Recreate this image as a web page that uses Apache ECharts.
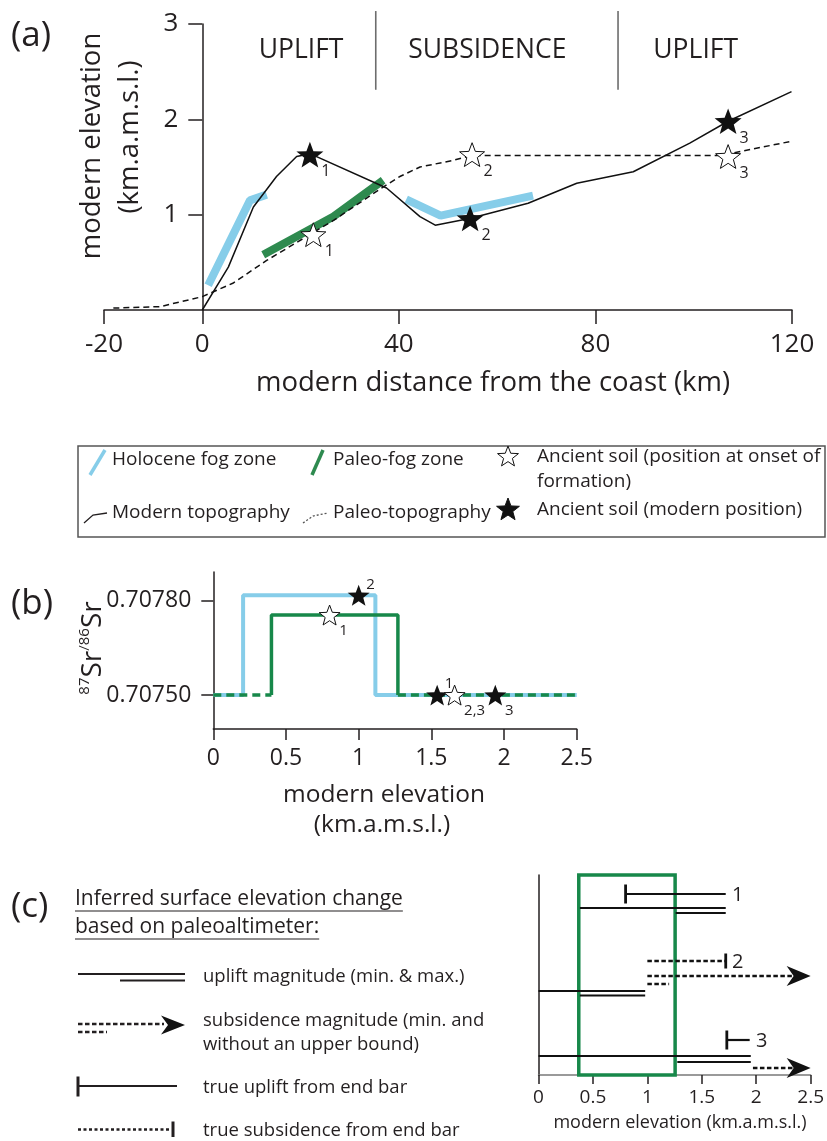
<!DOCTYPE html>
<html><head><meta charset="utf-8">
<script src="https://cdn.jsdelivr.net/npm/echarts@6/dist/echarts.min.js"></script>
<style>html,body{margin:0;padding:0;background:#fff}#c{width:827px;height:1141px}</style>
</head><body><div id="c"></div>
<script>
// ---------------- Panel (a) data ----------------
const aXTicks = [-20, 0, 40, 80, 120];
const aYTicks = [1, 2, 3];
const modernTopo = [[0,0],[5.3,0.45],[10.4,1.08],[15.1,1.40],[19.2,1.61],[21.9,1.64],[37.5,1.28],[44.3,0.98],[47.4,0.89],[54.4,0.96],[66.3,1.12],[76.2,1.33],[87.7,1.45],[99.2,1.75],[107.0,1.98],[119.9,2.29]];
const paleoTopo = [[-18.1,0.02],[-8.6,0.035],[0,0.14],[6.2,0.28],[13.1,0.52],[26.7,0.94],[36.8,1.29],[40.2,1.40],[44.3,1.50],[51.1,1.57],[54.8,1.62],[105.4,1.62],[119.9,1.77]];
const holoceneFog1 = [[1.2,0.26],[9.7,1.15],[13.1,1.21]];
const holoceneFog2 = [[41.5,1.16],[48.5,0.99],[67.3,1.20]];
const paleoFog = [[12.4,0.58],[26.7,0.98],[36.8,1.36]];
const soilModernA = [[21.9,1.63,'1'],[54.5,0.96,'2'],[107.0,1.98,'3']];
const soilOnsetA = [[22.6,0.79,'1'],[54.9,1.63,'2'],[107.0,1.61,'3']];
const regionBounds = [35.3, 84.6];
const regionSpan = [2.31, 3.136];
const regionLabels = [[20.1,'UPLIFT'],[58.0,'SUBSIDENCE'],[100.4,'UPLIFT']];
const regionLabelY = 2.727;

// ---------------- Panel (b) data ----------------
const bXTicks = [0, 0.5, 1, 1.5, 2, 2.5];
const bYTicks = [0.7075, 0.7078];
const holoceneSr = [[0,0.7075],[0.205,0.7075],[0.205,0.707818],[1.115,0.707818],[1.115,0.7075],[2.5,0.7075]];
const paleoSrSolid = [[0.40,0.7075],[0.40,0.707755],[1.27,0.707755],[1.27,0.7075]];
const paleoSrDash1 = [[0,0.7075],[0.40,0.7075]];
const paleoSrDash2 = [[1.27,0.7075],[2.5,0.7075]];
const soilModernB = [[1.0,0.707818,'2','sup'],[1.54,0.7075,'1','sup'],[1.94,0.7075,'3','sub']];
const soilOnsetB = [[0.80,0.707755,'1','sub'],[1.66,0.7075,'2,3','sub']];

// ---------------- Panel (c) data ----------------
const cXTicks = [0, 0.5, 1, 1.5, 2, 2.5];
const cRowRange = [0, 20];
const paleoFogRange = [0.37, 1.255];
// [from, to, row, kind]
const cSegments = [
  [0.80, 1.72, 1.9, 'uplift-bar'],
  [0.38, 1.72, 3.3, 'solid'],
  [1.26, 1.72, 3.8, 'solid'],
  [1.0, 1.72, 8.6, 'subsid-bar'],
  [1.0, 2.5, 10.1, 'subsid-arrow'],
  [1.0, 1.2, 10.9, 'dotted'],
  [0, 0.98, 11.6, 'solid'],
  [0.38, 0.98, 12.05, 'solid'],
  [1.73, 1.94, 16.5, 'uplift-bar'],
  [0, 1.95, 18.1, 'solid'],
  [1.275, 1.95, 18.7, 'solid'],
  [1.97, 2.5, 19.3, 'subsid-arrow']
];
const cLabels = [[1.72, 1.9, '1'], [1.72, 8.6, '2'], [1.94, 16.5, '3']];

// ---------------- helpers ----------------
const FONT = 'Open Sans';
const INK = '#231f20';
const BLUE = '#86cde9';
const GREEN_A = '#2e8a4f';
const GREEN = '#17884a';
function starPts(cx, cy, R) {
  const pts = []; const r = R * 0.42;
  for (let i = 0; i < 10; i++) {
    const a = -Math.PI / 2 + i * Math.PI / 5; const rr = i % 2 ? r : R;
    pts.push([cx + rr * Math.cos(a), cy + rr * Math.sin(a)]);
  }
  return pts;
}
const STAR = 'path://M' + starPts(0, 0, 10).map(p => p[0].toFixed(2) + ',' + p[1].toFixed(2)).join(' L') + ' Z';
const mctx = document.createElement('canvas').getContext('2d');
function tw(t, size) { mctx.font = size + 'px "' + FONT + '"'; return mctx.measureText(t).width; }
function txt(x, y, text, size, o) {
  o = o || {};
  return { type: 'text', x: x, y: y, rotation: o.rot || 0, z: 10,
    style: { text: text, fontSize: size, fontFamily: FONT, fill: o.fill || INK,
      align: o.align || 'left', textAlign: o.align || 'left', verticalAlign: 'middle', textVerticalAlign: 'middle', rich: o.rich } };
}
function seg(x1, y1, x2, y2, st) {
  return { type: 'line', z: 10, shape: { x1: x1, y1: y1, x2: x2, y2: y2 }, style: Object.assign({ stroke: INK, lineWidth: 2 }, st || {}) };
}
function poly(points, st) { return { type: 'polyline', z: 10, shape: { points: points }, style: Object.assign({ stroke: INK, lineWidth: 2, fill: null }, st || {}) }; }
function starG(cx, cy, R, filled) {
  return { type: 'polygon', z: 10, shape: { points: starPts(cx, cy, R) }, style: { fill: filled ? '#111' : '#fff', stroke: '#111', lineWidth: 1 } };
}

const graphics = [];
// panel labels
graphics.push(txt(11, 36, '(a)', 35));
graphics.push(txt(11, 604, '(b)', 35));
graphics.push(txt(11, 907, '(c)', 35));
// panel (a) axis titles
graphics.push(txt(92, 146, 'modern elevation', 27.5, { rot: Math.PI / 2, align: 'center' }));
graphics.push(txt(130, 137, '(km.a.m.s.l.)', 27.5, { rot: Math.PI / 2, align: 'center' }));
graphics.push(txt(493, 383, 'modern distance from the coast (km)', 27.5, { align: 'center' }));
// legend box
graphics.push({ type: 'rect', z: 9, shape: { x: 78, y: 446, width: 747, height: 91 }, style: { fill: null, stroke: '#555', lineWidth: 1.5 } });
graphics.push(seg(90, 475, 105, 450, { stroke: BLUE, lineWidth: 3.5 }));
graphics.push(txt(112, 460, 'Holocene fog zone', 19));
graphics.push(seg(312, 475, 323, 450, { stroke: GREEN_A, lineWidth: 3.5 }));
graphics.push(txt(333, 460, 'Paleo-fog zone', 19));
graphics.push(starG(508, 457, 11, false));
graphics.push(txt(537, 457, 'Ancient soil (position at onset of', 19));
graphics.push(txt(537, 482, 'formation)', 19));
graphics.push(poly([[84, 523], [93, 515], [107, 513]], { lineWidth: 1.3 }));
graphics.push(txt(112, 513, 'Modern topography', 19));
graphics.push(poly([[303, 523], [313, 516], [328, 513]], { lineWidth: 1.3, lineDash: [2, 2], stroke: '#555' }));
graphics.push(txt(333, 513, 'Paleo-topography', 19));
graphics.push(starG(508, 510, 12, true));
graphics.push(txt(537, 510, 'Ancient soil (modern position)', 19));
// panel (b) titles
graphics.push(txt(92, 648, '{s|87}{n|Sr}{s|/86}{n|Sr}', 28, { rot: Math.PI / 2, align: 'center',
  rich: { n: { fontSize: 28, fontFamily: FONT, fill: INK, lineHeight: 30, verticalAlign: 'bottom' }, s: { fontSize: 15, fontFamily: FONT, fill: INK, lineHeight: 16, verticalAlign: 'top' } } }));
graphics.push(txt(384, 795, 'modern elevation', 24.5, { align: 'center' }));
graphics.push(txt(382, 825, '(km.a.m.s.l.)', 24.5, { align: 'center' }));
// panel (c) left legend
const h1 = 'Inferred surface elevation change', h2 = 'based on paleoaltimeter:';
graphics.push(txt(75, 899, h1, 21));
graphics.push(txt(75, 927, h2, 21));
graphics.push(seg(75, 911, 75 + tw(h1, 21), 911, { lineWidth: 1.2 }));
graphics.push(seg(75, 939, 75 + tw(h2, 21), 939, { lineWidth: 1.2 }));
graphics.push(seg(78, 974, 185, 974, { lineWidth: 2.2 }));
graphics.push(seg(120, 980.5, 185, 980.5, { lineWidth: 2.2 }));
graphics.push(txt(203, 977, 'uplift magnitude (min. & max.)', 18.5));
graphics.push(seg(78, 1024, 164, 1024, { lineWidth: 2.4, lineDash: [4.5, 2.5] }));
graphics.push(seg(78, 1032, 107, 1032, { lineWidth: 2.4, lineDash: [4.5, 2.5] }));
graphics.push({ type: 'polygon', z: 10, shape: { points: [[185, 1025], [161, 1015.5], [168, 1025], [161, 1034.5]] }, style: { fill: '#111' } });
graphics.push(txt(203, 1021, 'subsidence magnitude (min. and', 18.5));
graphics.push(txt(203, 1045, 'without an upper bound)', 18.5));
graphics.push(seg(78, 1076.5, 78, 1096.5, { lineWidth: 3 }));
graphics.push(seg(78, 1086, 177, 1086, { lineWidth: 2.2 }));
graphics.push(txt(203, 1088, 'true uplift from end bar', 18.5));
graphics.push(seg(78, 1129.5, 170, 1129.5, { lineWidth: 2.4, lineDash: [3, 2.5] }));
graphics.push(seg(173, 1121.5, 173, 1137, { lineWidth: 3 }));
graphics.push(txt(203, 1131, 'true subsidence from end bar', 18.5));
// panel (c) axis title
graphics.push(txt(680, 1123, 'modern elevation (km.a.m.s.l.)', 18, { align: 'center' }));

// ---------------- chart ----------------
const chart = echarts.init(document.getElementById('c'), null, { renderer: 'canvas' });
const axisLine = { show: true, onZero: true, lineStyle: { color: INK, width: 1.5 } };
function tick(vals, len) { return { show: true, customValues: vals, length: len, lineStyle: { color: INK, width: 1.5 } }; }
function lab(vals, size, margin, fmt) { return { show: true, customValues: vals, fontSize: size, margin: margin, color: INK, fontFamily: FONT, formatter: fmt }; }
const starLabel = (off) => ({ show: true, position: 'inside', offset: off, formatter: p => p.value[2], fontSize: 16, color: INK, fontFamily: FONT });

// grid (a): x = 0 sits 98.3 px right of the grid's left edge; y labels are pulled to that axis line
const aGridLeft = 104, aGridWidth = 688;
const aZeroOffset = aGridWidth * (0 - aXTicks[0]) / (aXTicks[aXTicks.length - 1] - aXTicks[0]);

chart.setOption({
  animation: false,
  textStyle: { fontFamily: FONT },
  grid: [
    { left: aGridLeft, top: 24, width: aGridWidth, height: 286 },
    { left: 213.3, top: 572, width: 363.4, height: 157 },
    { left: 538.5, top: 875, width: 273, height: 200 }
  ],
  xAxis: [
    { gridIndex: 0, type: 'value', min: -20, max: 120, axisLine: axisLine, axisTick: tick(aXTicks, 14), axisLabel: lab(aXTicks, 26, 22), splitLine: { show: false } },
    { gridIndex: 1, type: 'value', min: 0, max: 2.5, axisLine: axisLine, axisTick: tick(bXTicks, 11), axisLabel: lab(bXTicks, 23, 18), splitLine: { show: false } },
    { gridIndex: 2, type: 'value', min: 0, max: 2.5, axisLine: { show: true, onZero: false, lineStyle: { color: '#7a7a7a', width: 1.5 } }, axisTick: tick(cXTicks, 9), axisLabel: lab(cXTicks, 19, 13), splitLine: { show: false } }
  ],
  yAxis: [
    { gridIndex: 0, type: 'value', min: 0, max: 3, axisLine: axisLine, axisTick: tick(aYTicks, 14), axisLabel: lab(aYTicks, 26, 24 - aZeroOffset), splitLine: { show: false } },
    { gridIndex: 1, type: 'value', min: 0.707392, max: 0.707892, axisLine: axisLine, axisTick: tick(bYTicks, 12), axisLabel: lab(bYTicks, 23, 22, v => v.toFixed(5)), splitLine: { show: false } },
    { gridIndex: 2, type: 'value', min: cRowRange[0], max: cRowRange[1], inverse: true, axisLine: { show: true, onZero: false, lineStyle: { color: INK, width: 1.5 } }, axisTick: { show: false }, axisLabel: { show: false }, splitLine: { show: false } }
  ],
  graphic: { elements: graphics },
  series: [
    // ----- panel (a) -----
    { type: 'line', xAxisIndex: 0, yAxisIndex: 0, data: holoceneFog1, symbol: 'none', z: 1, lineStyle: { color: BLUE, width: 8, cap: 'butt' } },
    { type: 'line', xAxisIndex: 0, yAxisIndex: 0, data: holoceneFog2, symbol: 'none', z: 1, lineStyle: { color: BLUE, width: 8, cap: 'butt' } },
    { type: 'line', xAxisIndex: 0, yAxisIndex: 0, data: paleoFog, symbol: 'none', z: 1, lineStyle: { color: GREEN_A, width: 8, cap: 'butt' } },
    { type: 'line', xAxisIndex: 0, yAxisIndex: 0, data: paleoTopo, symbol: 'none', z: 3, lineStyle: { color: '#111', width: 1.5, type: [6, 4] } },
    { type: 'line', xAxisIndex: 0, yAxisIndex: 0, data: modernTopo, symbol: 'none', z: 3, lineStyle: { color: '#111', width: 1.5 } },
    { type: 'scatter', xAxisIndex: 0, yAxisIndex: 0, data: soilOnsetA, symbol: STAR, symbolKeepAspect: true, symbolSize: 25, z: 5,
      itemStyle: { color: '#fff', borderColor: '#111', borderWidth: 1, opacity: 1 }, label: starLabel([16, 17]) },
    { type: 'scatter', xAxisIndex: 0, yAxisIndex: 0, data: soilModernA, symbol: STAR, symbolKeepAspect: true, symbolSize: 27, z: 5,
      itemStyle: { color: '#111', opacity: 1 }, label: starLabel([16, 17]) },
    { type: 'custom', xAxisIndex: 0, yAxisIndex: 0, z: 4, data: regionBounds.map(v => [v]), encode: { x: 0 },
      renderItem: (params, api) => {
        const a = api.coord([api.value(0), regionSpan[1]]), b = api.coord([api.value(0), regionSpan[0]]);
        return { type: 'line', shape: { x1: a[0], y1: a[1], x2: b[0], y2: b[1] }, style: { stroke: '#6d6d6d', lineWidth: 1.6 } };
      } },
    { type: 'custom', xAxisIndex: 0, yAxisIndex: 0, z: 4, data: regionLabels.map(r => [r[0]]), encode: { x: 0 },
      renderItem: (params, api) => {
        const p = api.coord([api.value(0), regionLabelY]);
        return { type: 'text', x: p[0], y: p[1], style: { text: regionLabels[params.dataIndex][1], fontSize: 26.5, fontFamily: FONT, fill: INK, align: 'center', verticalAlign: 'middle' } };
      } },
    // ----- panel (b) -----
    { type: 'line', xAxisIndex: 1, yAxisIndex: 1, data: holoceneSr, symbol: 'none', z: 2, lineStyle: { color: BLUE, width: 4 } },
    { type: 'line', xAxisIndex: 1, yAxisIndex: 1, data: paleoSrSolid, symbol: 'none', z: 3, lineStyle: { color: GREEN, width: 3.5 } },
    { type: 'line', xAxisIndex: 1, yAxisIndex: 1, data: paleoSrDash1, symbol: 'none', z: 3, lineStyle: { color: GREEN, width: 3.5, type: [8, 5] } },
    { type: 'line', xAxisIndex: 1, yAxisIndex: 1, data: paleoSrDash2, symbol: 'none', z: 3, lineStyle: { color: GREEN, width: 3.5, type: [8, 5] } },
    { type: 'scatter', xAxisIndex: 1, yAxisIndex: 1, data: soilModernB, symbol: STAR, symbolKeepAspect: true, symbolSize: 22, z: 5,
      itemStyle: { color: '#111', opacity: 1 },
      label: { show: true, position: 'inside', fontSize: 15, color: INK, fontFamily: FONT, formatter: p => p.value[2] } },
    { type: 'scatter', xAxisIndex: 1, yAxisIndex: 1, data: soilOnsetB, symbol: STAR, symbolKeepAspect: true, symbolSize: 21, z: 6,
      itemStyle: { color: '#fff', borderColor: '#111', borderWidth: 1, opacity: 1 },
      label: { show: true, position: 'inside', fontSize: 15, color: INK, fontFamily: FONT, formatter: p => p.value[2] } },
    // ----- panel (c) -----
    { type: 'custom', xAxisIndex: 2, yAxisIndex: 2, z: 2, data: [paleoFogRange], encode: { x: [0, 1] },
      renderItem: (params, api) => {
        const a = api.coord([api.value(0), cRowRange[0]]), b = api.coord([api.value(1), cRowRange[1]]);
        return { type: 'rect', shape: { x: a[0], y: a[1], width: b[0] - a[0], height: b[1] - a[1] }, style: { fill: null, stroke: GREEN, lineWidth: 3.5 } };
      } },
    { type: 'custom', xAxisIndex: 2, yAxisIndex: 2, z: 4, data: cSegments.map(s => [s[0], s[1], s[2]]), encode: { x: [0, 1], y: 2 },
      renderItem: (params, api) => {
        const kind = cSegments[params.dataIndex][3];
        const p1 = api.coord([api.value(0), api.value(2)]), p2 = api.coord([api.value(1), api.value(2)]);
        const dotted = kind.indexOf('subsid') === 0 || kind === 'dotted';
        const L = (a, b, st) => ({ type: 'line', shape: { x1: a[0], y1: a[1], x2: b[0], y2: b[1] }, style: st });
        const sSolid = { stroke: '#111', lineWidth: 2.2 }, sDot = { stroke: '#111', lineWidth: 2.4, lineDash: [4.5, 2.5] };
        const ch = [];
        const end = kind === 'subsid-arrow' ? p2[0] - 18 : p2[0];
        ch.push(L(p1, [end, p2[1]], dotted ? sDot : sSolid));
        if (kind === 'uplift-bar') ch.push(L([p1[0], p1[1] - 9.5], [p1[0], p1[1] + 9.5], { stroke: '#111', lineWidth: 2.8 }));
        if (kind === 'subsid-bar') ch.push(L([p2[0], p2[1] - 7.5], [p2[0], p2[1] + 7.5], { stroke: '#111', lineWidth: 2.8 }));
        if (kind === 'subsid-arrow') ch.push({ type: 'polygon', shape: { points: [[p2[0], p2[1]], [p2[0] - 24, p2[1] - 10], [p2[0] - 17, p2[1]], [p2[0] - 24, p2[1] + 10]] }, style: { fill: '#111' } });
        return { type: 'group', children: ch };
      } },
    { type: 'custom', xAxisIndex: 2, yAxisIndex: 2, z: 4, data: cLabels.map(l => [l[0], l[1]]), encode: { x: 0, y: 1 },
      renderItem: (params, api) => {
        const p = api.coord([api.value(0), api.value(1)]);
        return { type: 'text', x: p[0] + 12, y: p[1] + 1, style: { text: cLabels[params.dataIndex][2], fontSize: 20, fontFamily: FONT, fill: INK, align: 'center', verticalAlign: 'middle' } };
      } }
  ]
});
// per-point label offsets for panel (b) (superscript / subscript)
function bLabelData(arr) {
  return arr.map(d => ({ value: [d[0], d[1], d[2]], label: { offset: d[3] === 'sup' ? [12, -11] : [14 + (d[2].length > 1 ? 6 : 0), 16] } }));
}
chart.setOption({ series: [{}, {}, {}, {}, {}, {}, {}, {}, {}, {}, {}, {}, {},
  { data: bLabelData(soilModernB) }, { data: bLabelData(soilOnsetB) }] });
</script></body></html>
